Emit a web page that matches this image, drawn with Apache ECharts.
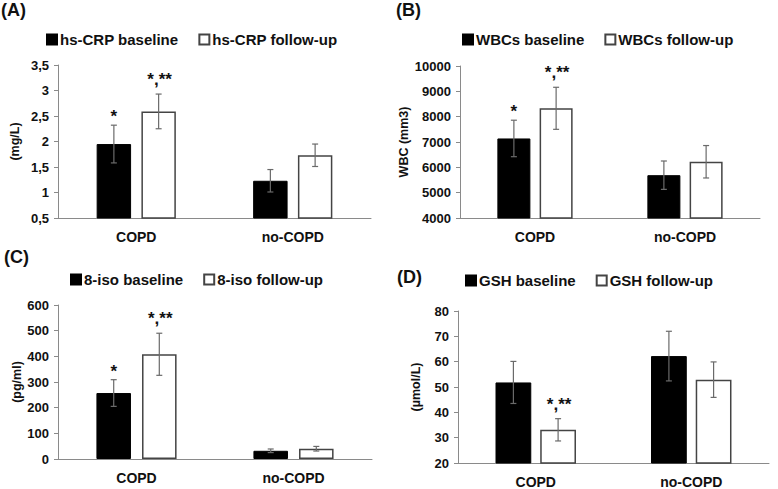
<!DOCTYPE html>
<html>
<head>
<meta charset="utf-8">
<script src="https://cdn.jsdelivr.net/npm/echarts@6/dist/echarts.min.js"></script>
<style>html,body{margin:0;padding:0;background:#fff}#c{width:778px;height:489px}</style>
</head>
<body>
<div id="c"></div>
<script>
// ---------- data ----------
const categories = ['COPD', 'no-COPD'];

const crpBaseline = [1.95, 1.23];
const crpBaselineErr = [0.37, 0.22];
const crpFollowup = [2.59, 1.73];
const crpFollowupErr = [0.34, 0.22];
const crpTicks = ['0,5', '1', '1,5', '2', '2,5', '3', '3,5'];

const wbcBaseline = [7140, 5690];
const wbcBaselineErr = [720, 560];
const wbcFollowup = [8330, 6220];
const wbcFollowupErr = [830, 640];

const isoBaseline = [257, 32];
const isoBaselineErr = [52, 7];
const isoFollowup = [408, 40];
const isoFollowupErr = [82, 9];

const gshBaseline = [51.8, 62.2];
const gshBaselineErr = [8.3, 9.8];
const gshFollowup = [33.1, 52.9];
const gshFollowupErr = [4.4, 7.0];

const annotA = { baseline: ['*', ''], followup: ['*,**', ''] };
const annotB = { baseline: ['*', ''], followup: ['*,**', ''] };
const annotC = { baseline: ['*', ''], followup: ['*,**', ''] };
const annotD = { baseline: ['', ''], followup: ['*,**', ''] };

// ---------- layout / style ----------
const FONT = '"Liberation Sans", Arial, sans-serif';
const TXT = '#111';
const AXIS = '#8a8a8a';
const ERR = '#6a6a6a';

const panels = [
  { label: '(A)', labelPos: [1, 1], grid: { left: 58, top: 65, width: 313, height: 153 },
    legendPos: [46, 32], names: ['hs-CRP baseline', 'hs-CRP follow-up'],
    base: crpBaseline, baseErr: crpBaselineErr, fol: crpFollowup, folErr: crpFollowupErr,
    min: 0.5, max: 3.5, interval: 0.5, ticks: crpTicks, yName: '(mg/L)', nameGap: 37,
    annot: annotA, bw: 0.22, gap: 0.30 },
  { label: '(B)', labelPos: [396, 1], grid: { left: 460, top: 66, width: 300, height: 152 },
    legendPos: [462, 32], names: ['WBCs baseline', 'WBCs follow-up'],
    base: wbcBaseline, baseErr: wbcBaselineErr, fol: wbcFollowup, folErr: wbcFollowupErr,
    min: 4000, max: 10000, interval: 1000, ticks: null, yName: 'WBC (mm3)', nameGap: 49,
    annot: annotB, bw: 0.22, gap: 0.28 },
  { label: '(C)', labelPos: [4, 248], grid: { left: 58, top: 305, width: 314, height: 154 },
    legendPos: [70, 272], names: ['8-iso baseline', '8-iso follow-up'],
    base: isoBaseline, baseErr: isoBaselineErr, fol: isoFollowup, folErr: isoFollowupErr,
    min: 0, max: 600, interval: 100, ticks: null, yName: '(pg/ml)', nameGap: 32,
    annot: annotC, bw: 0.22, gap: 0.32 },
  { label: '(D)', labelPos: [397, 268], grid: { left: 458, top: 311, width: 311, height: 153 },
    legendPos: [465, 273], names: ['GSH baseline', 'GSH follow-up'],
    base: gshBaseline, baseErr: gshBaselineErr, fol: gshFollowup, folErr: gshFollowupErr,
    min: 20, max: 80, interval: 10, ticks: null, yName: '(µmol/L)', nameGap: 36,
    annot: annotD, bw: 0.23, gap: 0.25 }
];

function makeErrRender(p) {
  return function (params, api) {
    const cat = api.value(0), v = api.value(1), e = api.value(2), s = api.value(3);
    const band = api.size([1, 0])[0];
    const w = band * p.bw;
    const off = (w + w * p.gap) / 2 * (s === 0 ? -1 : 1);
    const c = api.coord([cat, v]);
    const x = c[0] + off;
    const yTop = api.coord([cat, v + e])[1];
    const yBot = api.coord([cat, v - e])[1];
    const cap = 3;
    const ls = { stroke: ERR, lineWidth: 1.2 };
    const children = [
      { type: 'line', shape: { x1: x, y1: yTop, x2: x, y2: yBot }, style: ls },
      { type: 'line', shape: { x1: x - cap, y1: yTop, x2: x + cap, y2: yTop }, style: ls },
      { type: 'line', shape: { x1: x - cap, y1: yBot, x2: x + cap, y2: yBot }, style: ls }
    ];
    const txt = (s === 0 ? p.annot.baseline : p.annot.followup)[cat];
    if (txt) {
      children.push({
        type: 'text',
        style: {
          text: txt, x: x + (txt.length > 1 ? 1 : 0), y: yTop - (txt.length > 1 ? 6 : 0),
          align: 'center', verticalAlign: 'bottom',
          font: 'bold 17px ' + FONT, fill: TXT
        }
      });
    }
    return { type: 'group', children };
  };
}

const option = {
  animation: false,
  title: [], legend: [], grid: [], xAxis: [], yAxis: [], series: []
};

panels.forEach((p, i) => {
  option.title.push({
    text: p.label, left: p.labelPos[0], top: p.labelPos[1], padding: 0,
    textStyle: { fontFamily: FONT, fontWeight: 'bold', fontSize: 18, color: TXT }
  });
  option.legend.push({
    data: p.names, left: p.legendPos[0], top: p.legendPos[1], padding: 0,
    itemWidth: 10, itemHeight: 10, itemGap: 20, icon: 'rect', selectedMode: false,
    textStyle: { fontFamily: FONT, fontWeight: 'bold', fontSize: 15, color: TXT, padding: [0, 0, 0, -2] }
  });
  option.grid.push(Object.assign({ containLabel: false }, p.grid));
  option.xAxis.push({
    type: 'category', gridIndex: i, data: categories,
    axisLine: { lineStyle: { color: AXIS, width: 1 } },
    axisTick: { show: false },
    axisLabel: { fontFamily: FONT, fontWeight: 'bold', fontSize: 14, color: TXT, margin: 12 }
  });
  const ticks = p.ticks;
  const yAxis = {
    type: 'value', gridIndex: i, min: p.min, max: p.max, interval: p.interval,
    name: p.yName, nameLocation: 'middle', nameGap: p.nameGap, nameRotate: 90,
    nameTextStyle: { fontFamily: FONT, fontWeight: 'bold', fontSize: 12.5, color: TXT },
    axisLine: { show: true, lineStyle: { color: AXIS, width: 1 } },
    axisTick: { show: true, length: 4, lineStyle: { color: AXIS } },
    splitLine: { show: false },
    axisLabel: {
      fontFamily: FONT, fontWeight: 'bold', fontSize: 13, color: TXT, margin: 9,
      formatter: function (val) {
        if (ticks) {
          const idx = Math.round((val - p.min) / p.interval);
          if (ticks[idx] !== undefined) return ticks[idx];
        }
        return String(val);
      }
    }
  };
  option.yAxis.push(yAxis);
  option.series.push({
    name: p.names[0], type: 'bar', xAxisIndex: i, yAxisIndex: i, data: p.base,
    barWidth: (p.bw * 100) + '%', barGap: (p.gap * 100) + '%',
    itemStyle: { color: '#000', borderColor: '#000', borderWidth: 1 }
  });
  option.series.push({
    name: p.names[1], type: 'bar', xAxisIndex: i, yAxisIndex: i, data: p.fol,
    barWidth: (p.bw * 100) + '%', barGap: (p.gap * 100) + '%',
    itemStyle: { color: '#fff', borderColor: '#444', borderWidth: 1.5 }
  });
  const errData = [];
  categories.forEach((c, k) => {
    errData.push([k, p.base[k], p.baseErr[k], 0]);
    errData.push([k, p.fol[k], p.folErr[k], 1]);
  });
  option.series.push({
    type: 'custom', xAxisIndex: i, yAxisIndex: i, data: errData, z: 10,
    renderItem: makeErrRender(p), silent: true
  });
});

const chart = echarts.init(document.getElementById('c'), null, { renderer: 'svg' });
chart.setOption(option);
</script>
</body>
</html>
